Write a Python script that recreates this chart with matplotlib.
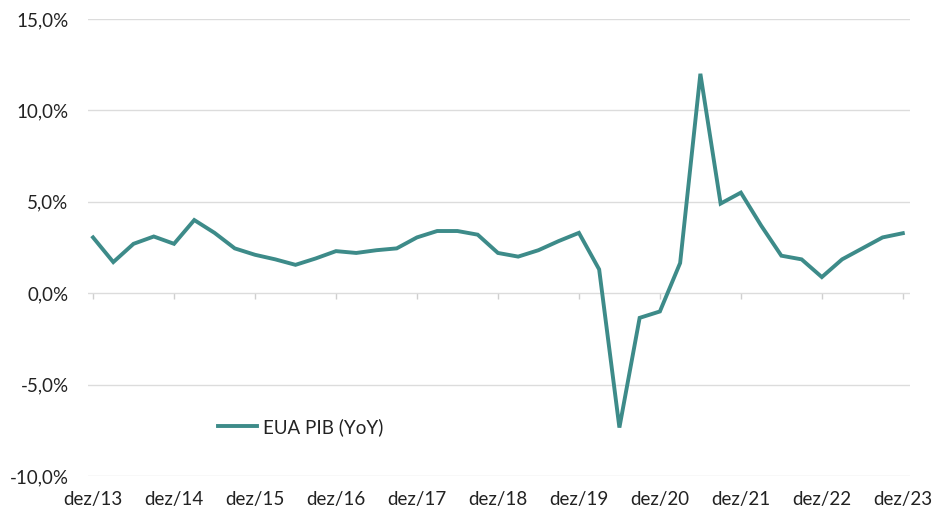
import matplotlib
matplotlib.use('Agg')
import matplotlib.pyplot as plt
import numpy as np

plt.rcParams['font.family'] = ['Lato', 'DejaVu Sans']

# US GDP YoY, quarterly dez/13 .. dez/23
gdp_yoy = [3.05, 1.7, 2.7, 3.1, 2.7, 4.0, 3.3, 2.45,
           2.1, 1.85, 1.55, 1.9, 2.3, 2.2, 2.35, 2.45,
           3.05, 3.4, 3.4, 3.2, 2.2, 2.0, 2.35, 2.85,
           3.3, 1.3, -7.35, -1.35, -1.0, 1.65, 12.0, 4.9,
           5.5, 3.7, 2.05, 1.85, 0.88, 1.85, 2.45, 3.05, 3.28]
tick_labels = ['dez/13', 'dez/14', 'dez/15', 'dez/16', 'dez/17', 'dez/18',
               'dez/19', 'dez/20', 'dez/21', 'dez/22', 'dez/23']
y_ticks = [-10, -5, 0, 5, 10, 15]

x = np.arange(len(gdp_yoy))
tick_pos = np.arange(0, len(gdp_yoy), 4)

fig = plt.figure(figsize=(9.34, 5.13), dpi=100)
ax = fig.add_axes([0.0942, 0.0721, 0.88, 0.891])

ax.plot(x, gdp_yoy, color='#3d8b89', linewidth=2.8, label='EUA PIB (YoY)',
        solid_joinstyle='miter', zorder=3)

ax.set_xlim(-0.25, 40.35)
ax.set_ylim(-10, 15)
ax.set_yticks(y_ticks)
ax.set_yticklabels([f'{v:.1f}%'.replace('.', ',') for v in y_ticks])
ax.set_xticks(tick_pos)
ax.set_xticklabels(tick_labels)
ax.grid(axis='y', color='#dcdcdc', linewidth=1)
ax.set_axisbelow(True)
for s in ax.spines.values():
    s.set_visible(False)
ax.tick_params(axis='both', length=0, labelsize=13.5, labelcolor='#222222')
ax.tick_params(axis='x', pad=11)
ax.tick_params(axis='y', pad=14)

# small tick marks on the zero line
sec = ax.secondary_xaxis(0.4)
sec.set_xticks(tick_pos)
sec.set_xticklabels([])
sec.tick_params(length=4, color='#cfcfcf', direction='out', width=1)
sec.spines['bottom'].set_visible(False)

ax.legend(loc='center left', bbox_to_anchor=(0.158, 0.107), frameon=False,
          fontsize=13.5, handlelength=2.1, handletextpad=0.3,
          borderpad=0, borderaxespad=0, labelcolor='#222222')

fig.savefig('out.png', dpi=100)
